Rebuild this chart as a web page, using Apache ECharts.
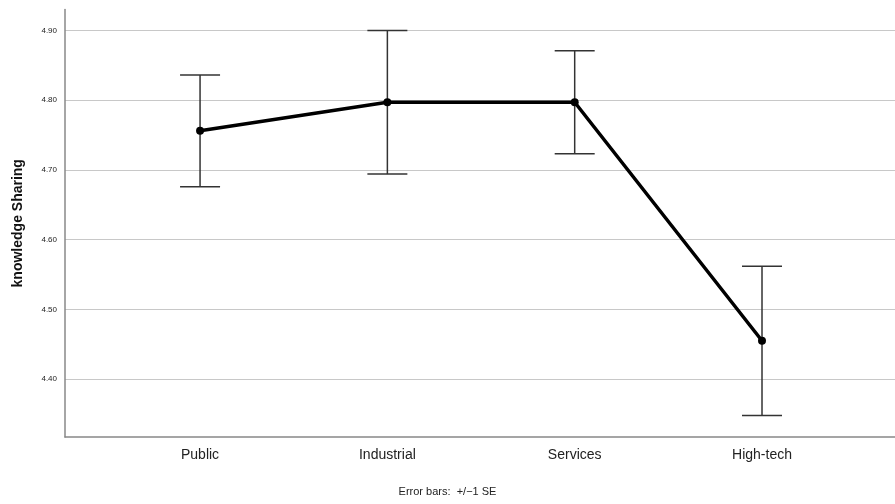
<!DOCTYPE html>
<html><head><meta charset="utf-8">
<script src="https://cdn.jsdelivr.net/npm/echarts@6/dist/echarts.min.js"></script>
<style>html,body{margin:0;padding:0;background:#fff}#c{width:895px;height:504px}</style>
</head><body><div id="c"></div>
<script>
const categories = ['Public', 'Industrial', 'Services', 'High-tech'];
const means = [4.756, 4.797, 4.797, 4.455];
const upper = [4.836, 4.900, 4.871, 4.562];
const lower = [4.676, 4.694, 4.723, 4.348];
const yMin = 4.317, yMax = 4.930;
const xMin = -0.721, xMax = 3.710;

const chart = echarts.init(document.getElementById('c'));
const font = 'Liberation Sans, Arial, sans-serif';
chart.setOption({
  animation: false,
  grid: { left: 65, right: 0, top: 9.5, bottom: 67, containLabel: false, outerBoundsMode: 'none' },
  xAxis: {
    type: 'value', min: xMin, max: xMax,
    axisLine: { show: true, onZero: false, lineStyle: { color: '#888', width: 1.5 } },
    axisTick: { show: false },
    splitLine: { show: false },
    axisLabel: {
      customValues: categories.map((c, i) => i),
      formatter: v => categories[Math.round(v)] || '',
      fontFamily: font, fontSize: 14, color: '#222', margin: 11
    }
  },
  yAxis: {
    type: 'value', min: yMin, max: yMax, splitNumber: 6,
    name: 'knowledge Sharing', nameLocation: 'middle', nameGap: 40,
    nameTextStyle: { fontFamily: font, fontSize: 14, fontWeight: 'bold', color: '#111' },
    axisLine: { show: true, onZero: false, lineStyle: { color: '#888', width: 1.5 } },
    axisTick: { show: false },
    axisLabel: { fontFamily: font, fontSize: 8, color: '#222', margin: 8,
      showMinLabel: false, showMaxLabel: false, formatter: v => v.toFixed(2) },
    splitLine: { show: true, showMinLine: false, showMaxLine: false, lineStyle: { color: '#c8c8c8', width: 1.2 } }
  },
  series: [
    {
      type: 'custom',
      data: categories.map((c, i) => [i, lower[i], upper[i]]),
      renderItem: (params, api) => {
        const x = api.value(0);
        const lo = api.coord([x, api.value(1)]);
        const hi = api.coord([x, api.value(2)]);
        const hw = 20;
        const st = { stroke: '#333', lineWidth: 1.5 };
        return { type: 'group', children: [
          { type: 'line', shape: { x1: lo[0], y1: lo[1], x2: hi[0], y2: hi[1] }, style: st },
          { type: 'line', shape: { x1: lo[0]-hw, y1: lo[1], x2: lo[0]+hw, y2: lo[1] }, style: st },
          { type: 'line', shape: { x1: hi[0]-hw, y1: hi[1], x2: hi[0]+hw, y2: hi[1] }, style: st }
        ]};
      },
      z: 1
    },
    {
      type: 'line',
      data: categories.map((c, i) => [i, means[i]]),
      lineStyle: { color: '#000', width: 3.5 },
      itemStyle: { color: '#000' },
      symbol: 'circle', symbolSize: 8,
      z: 3
    }
  ],
  graphic: [{
    type: 'text', left: 'center', top: 486,
    style: { text: 'Error bars:  +/\u22121 SE', fontFamily: font, fontSize: 11, fill: '#222' }
  }]
});
</script></body></html>
